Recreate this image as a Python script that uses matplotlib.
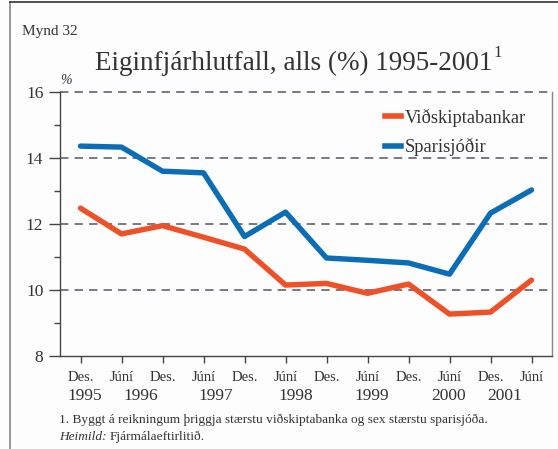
import numpy as np
import matplotlib.pyplot as plt
from matplotlib.lines import Line2D

W, H = 558, 449
my_dpi = 100

# data
months = ["Des.", "Júní", "Des.", "Júní", "Des.", "Júní", "Des.", "Júní", "Des.", "Júní", "Des.", "Júní"]
years = ["1995", "1996", "1997", "1998", "1999", "2000", "2001"]
year_pos = [0.1, 1.48, 3.29, 5.25, 7.1, 8.98, 10.35]
vidskiptabankar = [12.48, 11.70, 11.95, 11.60, 11.24, 10.15, 10.20, 9.90, 10.18, 9.27, 9.33, 10.30]
sparisjodir = [14.36, 14.33, 13.60, 13.55, 11.62, 12.36, 10.97, 10.90, 10.82, 10.48, 12.33, 13.03]

red = '#ee5027'
blue = '#0b6db5'
txt = '#333333'
grid_color = '#555566'

plt.rcParams['font.family'] = ['Liberation Serif', 'DejaVu Serif']

fig = plt.figure(figsize = (W / my_dpi, H / my_dpi), dpi = my_dpi)
fig.patch.set_facecolor('#fdfdfd')
ax = fig.add_axes([60 / W, 1 - 356 / H, (552 - 60) / W, (356 - 92) / H])
ax.set_facecolor('#fdfdfd')

x = np.arange(len(months))
ax.plot(x, vidskiptabankar, color = red, linewidth = 3.9, solid_capstyle = 'round', zorder = 3)
ax.plot(x, sparisjodir, color = blue, linewidth = 3.9, solid_capstyle = 'round', zorder = 3)

ax.set_xlim(-0.5, 11.5)
ax.set_ylim(8, 16)

# dashed gridlines
for y in [10, 12, 14, 16] :
    ax.axhline(y, color = grid_color, linestyle = (0, (5.5, 4)), linewidth = 1.1, zorder = 1, clip_on = False)

ax.spines['top'].set_visible(False)
for s in ['left', 'bottom', 'right'] :
    ax.spines[s].set_color('#444444')
    ax.spines[s].set_linewidth(1.0)
ax.spines['right'].set_color('#888888')

ax.set_yticks([8, 10, 12, 14, 16])
ax.set_yticks([9, 11, 13, 15], minor = True)
ax.tick_params(axis = 'y', which = 'major', direction = 'out', length = 8, width = 1, color = '#444444',
               labelsize = 12.5, labelcolor = txt, pad = 4)
ax.tick_params(axis = 'y', which = 'minor', direction = 'out', length = 4.5, width = 1, color = '#444444')
ax.set_xticks(x)
ax.set_xticklabels(months)
ax.tick_params(axis = 'x', direction = 'out', length = 5, width = 1, color = '#444444',
               labelsize = 10.5, labelcolor = txt, pad = 6)

for xp, yr in zip(year_pos, years) :
    ax.text(xp, -0.152, yr, transform = ax.get_xaxis_transform(), ha = 'center', va = 'center',
            fontsize = 12.5, color = txt)

# legend
handles = [Line2D([0], [0], color = red, linewidth = 4), Line2D([0], [0], color = blue, linewidth = 4)]
ax.legend(handles, ["Viðskiptabankar", "Sparisjóðir"], loc = 'upper left', bbox_to_anchor = (0.627, 1.0),
          frameon = False, fontsize = 13.3, handlelength = 0.85, handletextpad = 0.2, labelspacing = 0.62,
          labelcolor = txt)

# texts
fig.text(22 / W, 1 - 32 / H, "Mynd 32", fontsize = 11, color = txt, va = 'center')
title = fig.text(95 / W, 1 - 63 / H, "Eiginfjárhlutfall, alls (%) 1995-2001", fontsize = 19.5, color = txt,
                 ha = 'left', va = 'center')
fig.text(60 / W, 1 - 81 / H, "%", fontsize = 10, color = txt, style = 'italic', va = 'center')
fig.text(59 / W, 1 - 420 / H, "1. Byggt á reikningum þriggja stærstu viðskiptabanka og sex stærstu sparisjóða.",
         fontsize = 9.6, color = txt, va = 'center')
heim = fig.text(59 / W, 1 - 437 / H, "Heimild:", fontsize = 9.6, color = txt, va = 'center', style = 'italic')
fig.canvas.draw()
bb = heim.get_window_extent()
fig.text((bb.x1 + 3) / W, 1 - 437 / H, "Fjármálaeftirlitið.", fontsize = 9.6, color = txt, va = 'center')
tb = title.get_window_extent()
fig.text((tb.x1 + 1) / W, 1 - 53 / H, "1", fontsize = 12, color = txt, va = 'center')

# frame of the figure
fig.add_artist(Line2D([9.5 / W, 9.5 / W], [0, 1 - 2 / H], transform = fig.transFigure, color = '#888888', linewidth = 1.2))
fig.add_artist(Line2D([9.5 / W, 1], [1 - 2 / H, 1 - 2 / H], transform = fig.transFigure, color = '#333333', linewidth = 1.2))

plt.savefig("out.png", dpi = my_dpi, facecolor = fig.get_facecolor())
